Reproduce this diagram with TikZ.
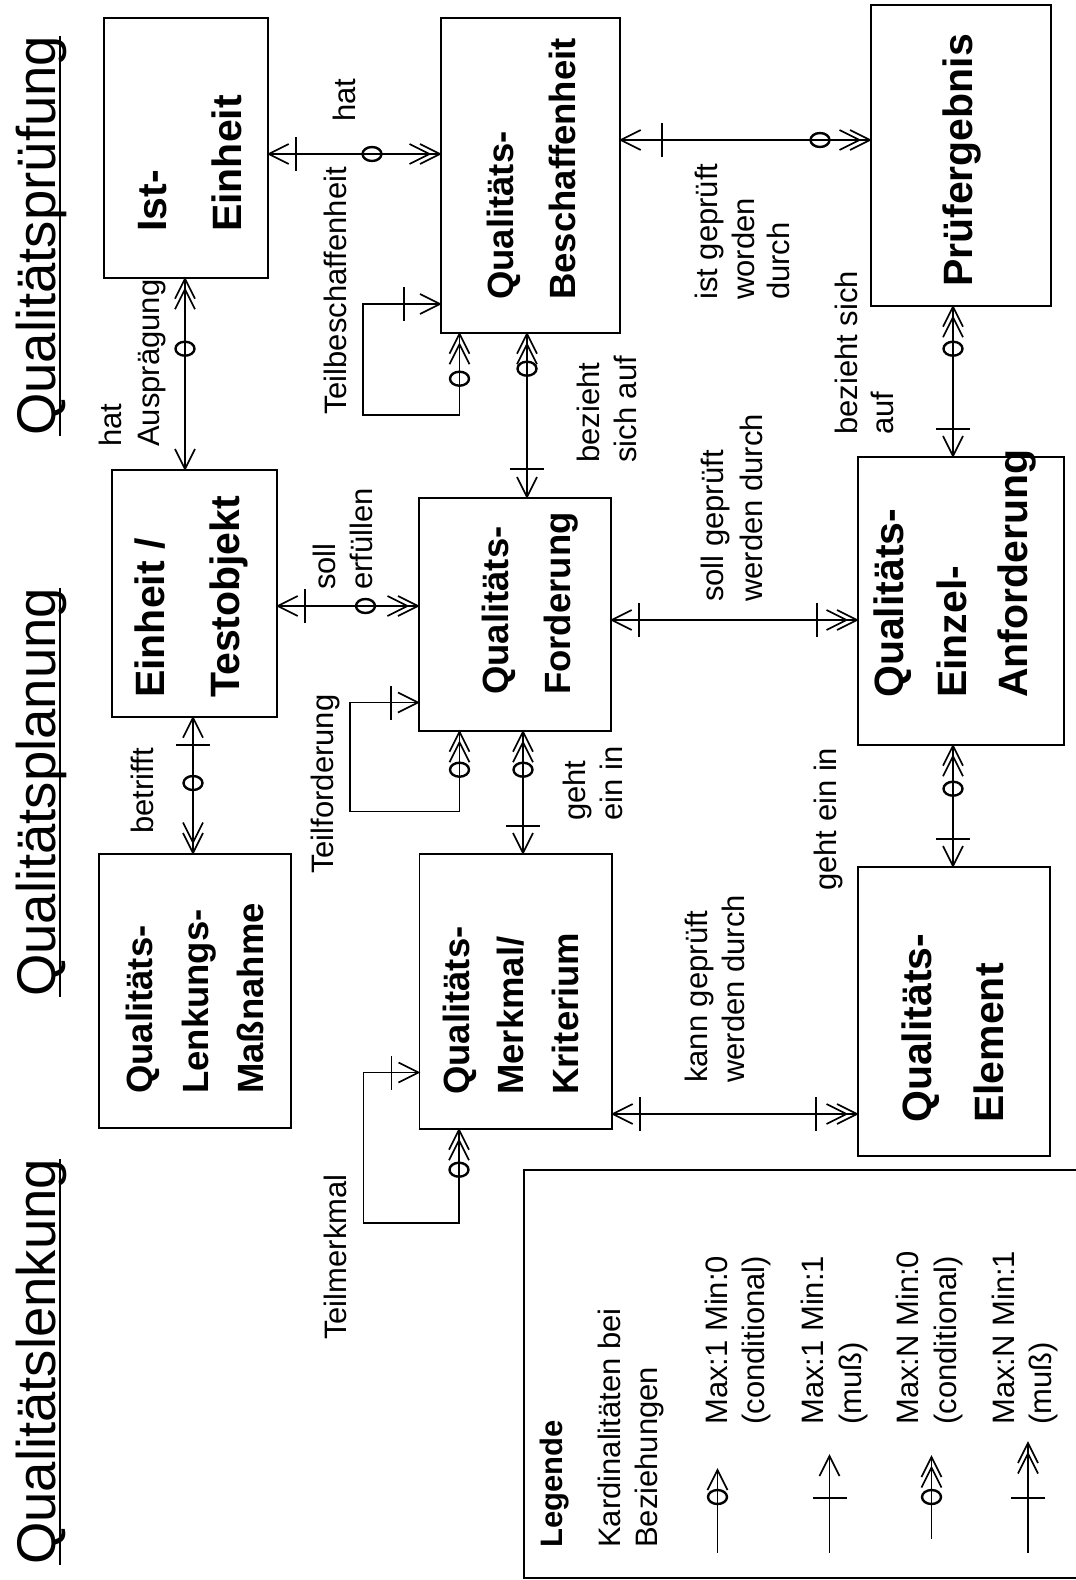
\documentclass[tikz,border=0pt]{standalone}
\usepackage{fontspec}
\setmainfont{Liberation Sans}
\usetikzlibrary{decorations.markings,calc}
\tikzset{
  lw/.style={line width=1.7pt},
  bx/.style={draw, lw, inner sep=0pt, anchor=north west},
  lab/.style={rotate=90, anchor=base west, inner sep=0pt, font=\fontsize{31}{37}\selectfont},
  blab/.style={rotate=90, anchor=base west, inner sep=0pt, font=\fontsize{41}{49}\selectfont\bfseries},
  mlab/.style={rotate=90, anchor=base west, inner sep=0pt, font=\fontsize{36.5}{44}\selectfont\bfseries},
  leglab/.style={rotate=90, anchor=base west, inner sep=0pt, font=\fontsize{31}{37}\selectfont\bfseries},
  tlab/.style={rotate=90, anchor=base west, inner sep=0pt, font=\fontsize{54.5}{60}\selectfont},
  conn/.style={lw},
  omark/.style={line width=2.4pt},
  mk/.style={postaction={decorate,decoration={markings,mark=#1}}},
  sA/.style={mk={at position 0 with {\draw[lw] (20pt,10pt)--(0pt,0pt)--(20pt,-10pt);}}},
  eA/.style={mk={at position 1 with {\draw[lw] (-20pt,10pt)--(0pt,0pt)--(-20pt,-10pt);}}},
  sAA/.style={mk={at position 0 with {\draw[lw] (20pt,10pt)--(0pt,0pt)--(20pt,-10pt) (30.5pt,10pt)--(10.5pt,0pt)--(30.5pt,-10pt);}}},
  eAA/.style={mk={at position 1 with {\draw[lw] (-20pt,10pt)--(0pt,0pt)--(-20pt,-10pt) (-30.5pt,10pt)--(-10.5pt,0pt)--(-30.5pt,-10pt);}}},
  sB/.style={mk={at position #1 with {\draw[lw] (0pt,-17pt)--(0pt,17pt);}}},
  eB/.style={mk={at position -#1 with {\draw[lw] (0pt,-17pt)--(0pt,17pt);}}},
}
\begin{document}
\begin{tikzpicture}[x=1pt,y=-1pt]
\useasboundingbox (0,0) rectangle (1076,1580);

% titles
\node[tlab] (t1) at (55,436) {Qualitätsprüfung};
\node[tlab] (t2) at (55,997) {Qualitätsplanung};
\node[tlab] (t3) at (55,1565) {Qualitätslenkung};
\foreach \t in {t1,t2,t3}
  \draw[line width=2.6pt] ([xshift=5pt]\t.base west) -- ([xshift=5pt]\t.base east);

% boxes
\node[bx, minimum width=164pt, minimum height=260pt] (ist) at (103,17) {};
\node[bx, minimum width=179pt, minimum height=315pt] (besch) at (440,17) {};
\node[bx, minimum width=180pt, minimum height=301pt] (pruef) at (870,4) {};
\node[bx, minimum width=165pt, minimum height=247pt] (einheit) at (111,469) {};
\node[bx, minimum width=192pt, minimum height=233pt] (ford) at (418,497) {};
\node[bx, minimum width=206pt, minimum height=288pt] (einzel) at (857,456) {};
\node[bx, minimum width=192pt, minimum height=274pt] (lenk) at (98,853) {};
\node[bx, minimum width=192.5pt, minimum height=275pt] (merk) at (418.5,853) {};
\node[bx, minimum width=192pt, minimum height=289pt] (elem) at (857,866) {};
\node[bx, minimum width=567pt, minimum height=408pt] (legend) at (523,1169) {};

% box labels
\node[blab] (ist1) at (166,232) {Ist-};
\node[blab] (ist2) at (241.5,232) {Einheit};
\node[mlab] (besch1) at (513,300) {Qualitäts-};
\node[mlab] (besch2) at (575,300) {Beschaffenheit};
\node[blab] (pruef1) at (972,287) {Prüfergebnis};
\node[blab] (einheit1) at (164,698) {Einheit /};
\node[blab] (einheit2) at (239,698) {Testobjekt};
\node[mlab] (ford1) at (508,695) {Qualitäts-};
\node[mlab] (ford2) at (570,695) {Forderung};
\node[blab] (einzel1) at (903,698) {Qualitäts-};
\node[blab] (einzel2) at (966,698) {Einzel-};
\node[blab] (einzel3) at (1027,698) {Anforderung};
\node[mlab] (lenk1) at (152,1094) {Qualitäts-};
\node[mlab] (lenk2) at (208,1094) {Lenkungs-};
\node[mlab] (lenk3) at (263,1094) {Maßnahme};
\node[mlab] (merk1) at (469,1095) {Qualitäts-};
\node[mlab] (merk2) at (523,1095) {Merkmal/};
\node[mlab] (merk3) at (578,1095) {Kriterium};
\node[blab] (elem1) at (931.5,1123) {Qualitäts-};
\node[blab] (elem2) at (1003,1123) {Element};

% relation labels
\node[lab] (r1) at (355,122) {hat};
\node[lab] (r2) at (346,415) {Teilbeschaffenheit};
\node[lab] (r3a) at (121,447) {hat};
\node[lab] (r3b) at (159,447) {Ausprägung};
\node[lab] (r4a) at (599,463) {bezieht};
\node[lab] (r4b) at (636,463) {sich auf};
\node[lab] (r5a) at (717,300) {ist geprüft};
\node[lab] (r5b) at (754,300) {worden};
\node[lab] (r5c) at (789,300) {durch};
\node[lab] (r6a) at (857,435) {bezieht sich};
\node[lab] (r6b) at (893,435) {auf};
\node[lab] (r7a) at (335,590) {soll};
\node[lab] (r7b) at (372,590) {erfüllen};
\node[lab] (r8) at (153,834) {betrifft};
\node[lab] (r9) at (333,874) {Teilforderung};
\node[lab] (r10a) at (585,821) {geht};
\node[lab] (r10b) at (622,821) {ein in};
\node[lab] (r11a) at (723,602) {soll geprüft};
\node[lab] (r11b) at (762,602) {werden durch};
\node[lab] (r12) at (836,891) {geht ein in};
\node[lab] (r13) at (346,1340) {Teilmerkmal};
\node[lab] (r14a) at (707,1083) {kann geprüft};
\node[lab] (r14b) at (744,1083) {werden durch};

% helper coordinates for connector lines
\coordinate (y1) at (0,154);
\coordinate (x2) at (185,0);
\coordinate (x4) at (527,0);
\coordinate (y5) at (0,140);
\coordinate (x6) at (953,0);
\coordinate (y7) at (0,606);
\coordinate (x8) at (193,0);
\coordinate (x10) at (523,0);
\coordinate (y11) at (0,620);
\coordinate (y14) at (0,1114);
\coordinate (tbA) at (459.5,415);
\coordinate (tbB) at (363,304);
\coordinate (tfA) at (459.5,811.5);
\coordinate (tfB) at (350,702.5);
\coordinate (tmA) at (459,1223);
\coordinate (tmB) at (363.5,1072.5);

% connectors
\draw[conn, sA, sB=27pt, eAA] (ist.east |- y1) -- (besch.west |- y1);
\draw[conn, sAA, eA] (ist.south -| x2) -- (einheit.north -| x2);
\draw[conn, sAA, eB=36pt, eA] (besch.south -| tbA) -- (tbA) -| (tbB) -- (besch.west |- tbB);
\draw[conn, sAA, eB=28pt, eA] (besch.south -| x4) -- (ford.north -| x4);
\draw[conn, sA, sB=41pt, eAA] (besch.east |- y5) -- (pruef.west |- y5);
\draw[conn, sAA, eB=27pt, eA] (pruef.south -| x6) -- (einzel.north -| x6);
\draw[conn, sA, sB=27.5pt, eAA] (einheit.east |- y7) -- (ford.west |- y7);
\draw[conn, sA, sB=27pt, eAA] (einheit.south -| x8) -- (lenk.north -| x8);
\draw[conn, sAA, eB=27pt, eA] (ford.south -| tfA) -- (tfA) -| (tfB) -- (ford.west |- tfB);
\draw[conn, sAA, eB=27pt, eA] (ford.south -| x10) -- (merk.north -| x10);
\draw[conn, sA, sB=27pt, eB=40pt, eAA] (ford.east |- y11) -- (einzel.west |- y11);
\draw[conn, sAA, eB=27pt, eA] (einzel.south -| x6) -- (elem.north -| x6);
\draw[conn, sAA, eB=27pt, eA] (merk.south -| tmA) -- (tmA) -| (tmB) -- (merk.west |- tmB);
\draw[conn, sA, sB=27pt, eB=41pt, eAA] (merk.east |- y14) -- (elem.west |- y14);

% optional-cardinality marks (o)
\draw[omark] ($(besch.west |- y1)!68pt!(ist.east |- y1)$) ellipse (9.5pt and 7pt);
\draw[omark] ($(ist.south -| x2)!70pt!(einheit.north -| x2)$) ellipse (9.5pt and 7pt);
\draw[omark] ($(besch.south -| tbA)!45pt!(tbA)$) ellipse (9.5pt and 7pt);
\draw[omark] ($(besch.south -| x4)!35pt!(ford.north -| x4)$) ellipse (9.5pt and 7pt);
\draw[omark] ($(pruef.west |- y5)!50pt!(besch.east |- y5)$) ellipse (9.5pt and 7pt);
\draw[omark] ($(pruef.south -| x6)!42pt!(einzel.north -| x6)$) ellipse (9.5pt and 7pt);
\draw[omark] ($(ford.west |- y7)!52.5pt!(einheit.east |- y7)$) ellipse (9.5pt and 7pt);
\draw[omark] ($(lenk.north -| x8)!70pt!(einheit.south -| x8)$) ellipse (9.5pt and 7pt);
\draw[omark] ($(ford.south -| tfA)!38pt!(tfA)$) ellipse (9.5pt and 7pt);
\draw[omark] ($(ford.south -| x10)!38pt!(merk.north -| x10)$) ellipse (9.5pt and 7pt);
\draw[omark] ($(einzel.south -| x6)!43pt!(elem.north -| x6)$) ellipse (9.5pt and 7pt);
\draw[omark] ($(merk.south -| tmA)!40pt!(tmA)$) ellipse (9.5pt and 7pt);

% legend
\node[leglab] (lg1) at (562,1548) {Legende};
\node[lab] (lg2) at (620,1548) {Kardinalitäten bei};
\node[lab] (lg3) at (657,1548) {Beziehungen};
\node[lab] (lg4a) at (727,1425) {Max:1 Min:0};
\node[lab] (lg4b) at (764,1425) {(conditional)};
\node[lab] (lg5a) at (823,1425) {Max:1 Min:1};
\node[lab] (lg5b) at (861,1425) {(muß)};
\node[lab] (lg6a) at (918,1425) {Max:N Min:0};
\node[lab] (lg6b) at (956,1425) {(conditional)};
\node[lab] (lg7a) at (1014,1425) {Max:N Min:1};
\node[lab] (lg7b) at (1051,1425) {(muß)};
\coordinate (l1s) at (717.5,1553);
\coordinate (l1e) at (717.5,1470);
\coordinate (l2s) at (829.5,1553);
\coordinate (l2e) at (829.5,1456);
\coordinate (l3s) at (931.5,1539);
\coordinate (l3e) at (931.5,1457);
\coordinate (l4s) at (1028,1553);
\coordinate (l4e) at (1028,1443);
\draw[conn, eA] (l1s) -- (l1e);
\draw[conn, eB=42pt, eA] (l2s) -- (l2e);
\draw[conn, eAA] (l3s) -- (l3e);
\draw[conn, eB=55pt, eAA] (l4s) -- (l4e);
\draw[omark] ($(l1e)!27pt!(l1s)$) ellipse (9.5pt and 7pt);
\draw[omark] ($(l3e)!40pt!(l3s)$) ellipse (9.5pt and 7pt);
\end{tikzpicture}
\end{document}
